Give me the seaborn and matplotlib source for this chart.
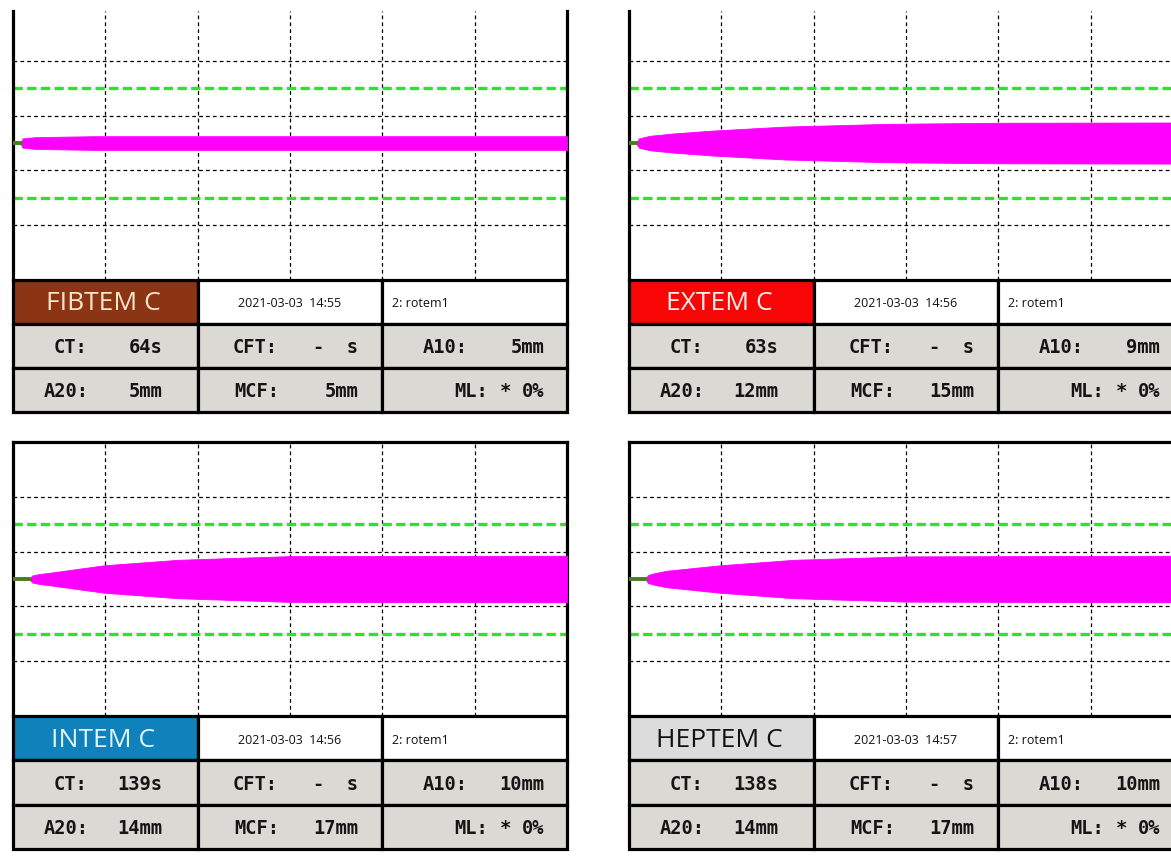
import numpy as np
import pandas as pd
import matplotlib
matplotlib.use("Agg")
import matplotlib.pyplot as plt
from matplotlib.patches import Rectangle
import seaborn as sns

# ---- assay results -------------------------------------------------------
assays = ["FIBTEM C", "EXTEM C", "INTEM C", "HEPTEM C"]
run_times = ["2021-03-03  14:55", "2021-03-03  14:56", "2021-03-03  14:56", "2021-03-03  14:57"]
channels = ["2: rotem1", "2: rotem1", "2: rotem1", "2: rotem1"]
ct_s = [64, 63, 139, 138]          # clotting time, seconds
cft_s = ["-", "-", "-", "-"]       # clot formation time (not reached)
a10_mm = [5, 9, 10, 10]
a20_mm = [5, 12, 14, 14]
mcf_mm = [5, 15, 17, 17]
ml_pct = [0, 0, 0, 0]

# early firmness: minutes after CT, amplitude in mm
fib_early_dt = [0.0, 0.25, 2.0]
fib_early_amp = [1.0, 3.4, 4.3]
ext_early_dt = [0.0, 0.3, 1.8, 5.0]
ext_early_amp = [1.0, 3.4, 5.3, 7.0]
int_early_dt = [0.0, 0.3, 1.2, 2.7]
int_early_amp = [0.8, 2.6, 3.6, 4.6]
hep_early_dt = [0.0, 0.3, 1.2, 2.8]
hep_early_amp = [0.8, 3.0, 4.3, 6.0]

# later firmness: run time in minutes, amplitude in mm
fib_late_t, fib_late_amp = [], []
ext_late_t, ext_late_amp = [35.0, 50.0], [14.0, 14.8]
int_late_t, int_late_amp = [37.5], [16.7]
hep_late_t, hep_late_amp = [37.5], [16.5]

early_dt = [fib_early_dt, ext_early_dt, int_early_dt, hep_early_dt]
early_amp = [fib_early_amp, ext_early_amp, int_early_amp, hep_early_amp]
late_t = [fib_late_t, ext_late_t, int_late_t, hep_late_t]
late_amp = [fib_late_amp, ext_late_amp, int_late_amp, hep_late_amp]

header_fill = ["#8c3514", "#f80606", "#0f82bb", "#dcdcdc"]
header_text = ["#f8e6cc", "#fff0f0", "#e2f4ff", "#111111"]

RUN_END = 75.0        # minutes shown on the time axis
REF_LINE = 20.0       # reference amplitude lines (mm)

sns.set_theme(style="white")
plt.rcParams["font.family"] = ["DejaVu Sans"]

W, H = 1171, 862
fig = plt.figure(figsize=(W / 100, H / 100), dpi=100)
fig.patch.set_facecolor("white")


def box(x0, y0, x1, y1):
    return [x0 / W, 1 - y1 / H, (x1 - x0) / W, (y1 - y0) / H]


layout = [
    dict(x0=13, top=12, bot=281, tab=413, ytop=48.2, topspine=False),
    dict(x0=629, top=12, bot=281, tab=413, ytop=48.2, topspine=False),
    dict(x0=13, top=443, bot=717, tab=850, ytop=50.0, topspine=True),
    dict(x0=629, top=443, bot=717, tab=850, ytop=50.0, topspine=True),
]
PW = 554
BORDER = 2.3
cell_gray = "#dbd9d3"

for i, lay in enumerate(layout):
    x0 = lay["x0"]
    ax = fig.add_axes(box(x0, lay["top"], x0 + PW, lay["bot"]))
    ax.set_xlim(0, RUN_END)
    ax.set_ylim(-50, lay["ytop"])
    ax.set_xticks(np.arange(12.5, RUN_END, 12.5))
    ax.set_yticks([-30, -10, 10, 30])
    ax.tick_params(length=0, labelbottom=False, labelleft=False)
    ax.grid(True, color="black", lw=0.9, ls=(0, (3, 2.5)))
    ax.set_axisbelow(True)
    for s in ("left", "right"):
        ax.spines[s].set_linewidth(BORDER)
        ax.spines[s].set_color("black")
    ax.spines["bottom"].set_visible(False)
    ax.spines["top"].set_visible(lay["topspine"])
    ax.spines["top"].set_linewidth(BORDER)
    ax.spines["top"].set_color("black")

    for yref in (REF_LINE, -REF_LINE):
        ax.axhline(yref, color="#2fe02f", lw=2.4, ls=(0, (2.8, 1.3)), zorder=2)

    ct_min = ct_s[i] / 60.0
    t = [ct_min + d for d in early_dt[i]] + [ct_min + 10, ct_min + 20] + late_t[i] + [RUN_END]
    a = list(early_amp[i]) + [a10_mm[i], a20_mm[i]] + late_amp[i] + [mcf_mm[i]]
    trace = pd.DataFrame({"t": t, "amp": a})
    ax.fill_between(trace["t"], -trace["amp"] / 2, trace["amp"] / 2,
                    color="#ff00ff", lw=0.6, edgecolor="#ff00ff", zorder=3)

    stub = pd.DataFrame({"t": [0.0, ct_min], "amp": [0.0, 0.0]})
    sns.lineplot(data=stub, x="t", y="amp", ax=ax, color="#4b7d1e", lw=2.8,
                 zorder=4, legend=False)
    ax.set_xlabel("")
    ax.set_ylabel("")

    # result table
    tx = fig.add_axes(box(x0, lay["bot"], x0 + PW, lay["tab"]))
    tx.set_xlim(0, 3)
    tx.set_ylim(3, 0)
    tx.axis("off")
    fills = [[header_fill[i], "white", "white"],
             [cell_gray] * 3,
             [cell_gray] * 3]
    for r in range(3):
        for c in range(3):
            tx.add_patch(Rectangle((c, r), 1, 1, facecolor=fills[r][c],
                                   edgecolor="black", lw=BORDER, clip_on=False))

    tx.text(0.49, 0.52, assays[i], ha="center", va="center", fontsize=19,
            family="Open Sans", color=header_text[i])
    tx.text(1.5, 0.52, run_times[i], ha="center", va="center", fontsize=9,
            family="Open Sans", color="#111111")
    tx.text(2.055, 0.52, channels[i], ha="left", va="center", fontsize=9,
            family="Open Sans", color="#111111")

    mono = dict(family="DejaVu Sans Mono", fontweight="bold", fontsize=13.5,
                color="#151515", va="center")
    row1 = [("CT:", f"{ct_s[i]}s"), ("CFT:", f"{cft_s[i]}  s"), ("A10:", f"{a10_mm[i]}mm")]
    label_cx = [0.31, 0.31, 0.34]
    value_rx = [0.81, 0.87, 0.876]
    for c, (lab, val) in enumerate(row1):
        tx.text(c + label_cx[c], 1.52, lab, ha="center", **mono)
        tx.text(c + value_rx[c], 1.52, val, ha="right", **mono)
    row2 = [("A20:", f"{a20_mm[i]}mm"), ("MCF:", f"{mcf_mm[i]}mm")]
    for c, (lab, val) in enumerate(row2):
        tx.text(c + [0.29, 0.32][c], 2.52, lab, ha="center", **mono)
        tx.text(c + value_rx[c], 2.52, val, ha="right", **mono)
    tx.text(2.48, 2.52, "ML:", ha="center", **mono)
    tx.text(2.665, 2.52, "*", ha="center", **mono)
    tx.text(2.876, 2.52, f"{ml_pct[i]}%", ha="right", **mono)

fig.savefig("out.png", dpi=100, facecolor="white")
